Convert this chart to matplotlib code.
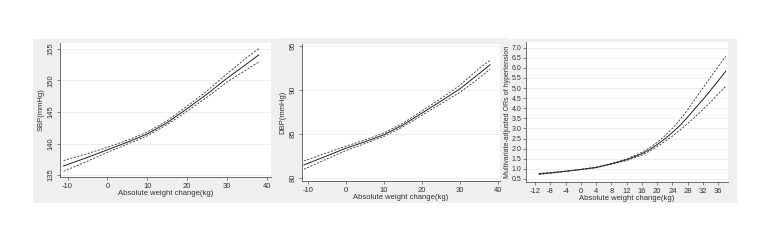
import numpy as np
import matplotlib
matplotlib.use("Agg")
import matplotlib.pyplot as plt
from matplotlib.patches import Rectangle

plt.rcParams['font.family'] = ['Liberation Sans', 'DejaVu Sans']
plt.rcParams['axes.unicode_minus'] = False

# weight change (kg) grid for SBP / DBP
x_bp = [-11, -5, 0, 5, 10, 15, 20, 25, 30, 35, 38]
sbp = [136.45, 137.8, 139.0, 140.2, 141.5, 143.3, 145.5, 147.8, 150.3, 152.6, 154.0]
sbp_hi = [137.3, 138.4, 139.4, 140.5, 141.8, 143.6, 145.9, 148.3, 151.0, 153.6, 155.0]
sbp_lo = [135.6, 137.2, 138.6, 139.9, 141.2, 143.0, 145.1, 147.3, 149.7, 151.7, 152.9]

dbp = [81.48, 82.5, 83.37, 84.1, 84.9, 86.0, 87.35, 88.7, 90.1, 91.8, 92.85]
dbp_hi = [81.93, 82.85, 83.6, 84.3, 85.1, 86.2, 87.6, 89.0, 90.5, 92.4, 93.35]
dbp_lo = [81.0, 82.15, 83.1, 83.9, 84.7, 85.8, 87.1, 88.4, 89.7, 91.3, 92.35]

# odds ratios of hypertension
x_or = [-11, -8, -4, 0, 4, 8, 12, 16, 18, 20, 22, 24, 26, 28, 30, 32, 34, 36, 38]
orr = [0.75, 0.80, 0.88, 0.97, 1.07, 1.25, 1.45, 1.75, 1.95, 2.2, 2.48, 2.8, 3.15,
       3.56, 4.0, 4.43, 4.88, 5.35, 5.83]
or_hi = [0.78, 0.82, 0.89, 0.98, 1.09, 1.27, 1.49, 1.82, 2.04, 2.31, 2.63, 3.0, 3.43,
         3.92, 4.47, 5.0, 5.53, 6.05, 6.57]
or_lo = [0.72, 0.78, 0.87, 0.96, 1.05, 1.23, 1.41, 1.68, 1.87, 2.1, 2.35, 2.62, 2.92,
         3.24, 3.58, 3.94, 4.3, 4.7, 5.09]

W, H = 777, 250
fig = plt.figure(figsize=(W / 100, H / 100), dpi=100)
fig.patch.set_facecolor("white")

def px_rect(l, r, t, b):
    return [l / W, 1 - b / H, (r - l) / W, (b - t) / H]

# gray graph regions (Stata style)
for l, r, t, b in [(33, 280, 39, 203), (280, 510, 38, 203), (510, 737, 39, 203)]:
    fig.patches.append(Rectangle((l / W, 1 - b / H), (r - l) / W, (b - t) / H,
                                 transform=fig.transFigure, facecolor="#efefef",
                                 edgecolor="none", zorder=-10))

def style(ax, xlim, ylim, yticks, xticks, ylabel, rot):
    ax.set_xlim(*xlim)
    ax.set_ylim(*ylim)
    ax.set_yticks(yticks)
    ax.set_xticks(xticks)
    for s in ["top", "right"]:
        ax.spines[s].set_visible(False)
    for s in ["left", "bottom"]:
        ax.spines[s].set_color("#555555")
        ax.spines[s].set_linewidth(0.6)
    ax.tick_params(length=2.5, width=0.5, color="#555555", labelsize=5.5,
                   labelcolor="#333333", pad=1.5)
    if rot:
        for t in ax.get_yticklabels():
            t.set_rotation(90)
            t.set_va("center")
    ax.yaxis.grid(True, color="#e8e8e8", linewidth=0.5)
    ax.set_axisbelow(True)
    ax.set_xlabel("Absolute weight change(kg)", fontsize=5.5, color="#333333", labelpad=0)
    ax.set_ylabel(ylabel, fontsize=5.5, color="#333333", labelpad=2)

def draw(ax, x, y, hi, lo):
    ax.plot(x, y, color="#222222", lw=0.7)
    ax.plot(x, hi, color="#333333", lw=0.6, dashes=(2.5, 1.8))
    ax.plot(x, lo, color="#333333", lw=0.6, dashes=(2.5, 1.8))

ax1 = fig.add_axes(px_rect(60, 271, 43, 177))
draw(ax1, x_bp, sbp, sbp_hi, sbp_lo)
style(ax1, (-11.9, 41.1), (134.7, 155.9), [135, 140, 145, 150, 155],
      [-10, 0, 10, 20, 30, 40], "SBP(mmHg)", True)

ax2 = fig.add_axes(px_rect(302, 500, 44, 181))
draw(ax2, x_bp, dbp, dbp_hi, dbp_lo)
style(ax2, (-11.5, 40.6), (79.66, 95.2), [80, 85, 90, 95],
      [-10, 0, 10, 20, 30, 40], "DBP(mmHg)", True)

ax3 = fig.add_axes(px_rect(526, 728, 42, 182))
draw(ax3, x_or, orr, or_hi, or_lo)
style(ax3, (-14.4, 38.6), (0.35, 7.28), np.arange(0.5, 7.01, 0.5),
      np.arange(-12, 37, 4), "Multivariate-adjusted ORs of hypertension", False)
ax3.set_yticklabels([f"{v:.1f}" for v in np.arange(0.5, 7.01, 0.5)])
ax3.tick_params(axis="y", labelsize=5, pad=1)
ax3.yaxis.label.set_fontsize(5)
ax3.yaxis.set_label_coords(-0.072, 0.5)

fig.savefig("out.png", dpi=100, facecolor="white")
